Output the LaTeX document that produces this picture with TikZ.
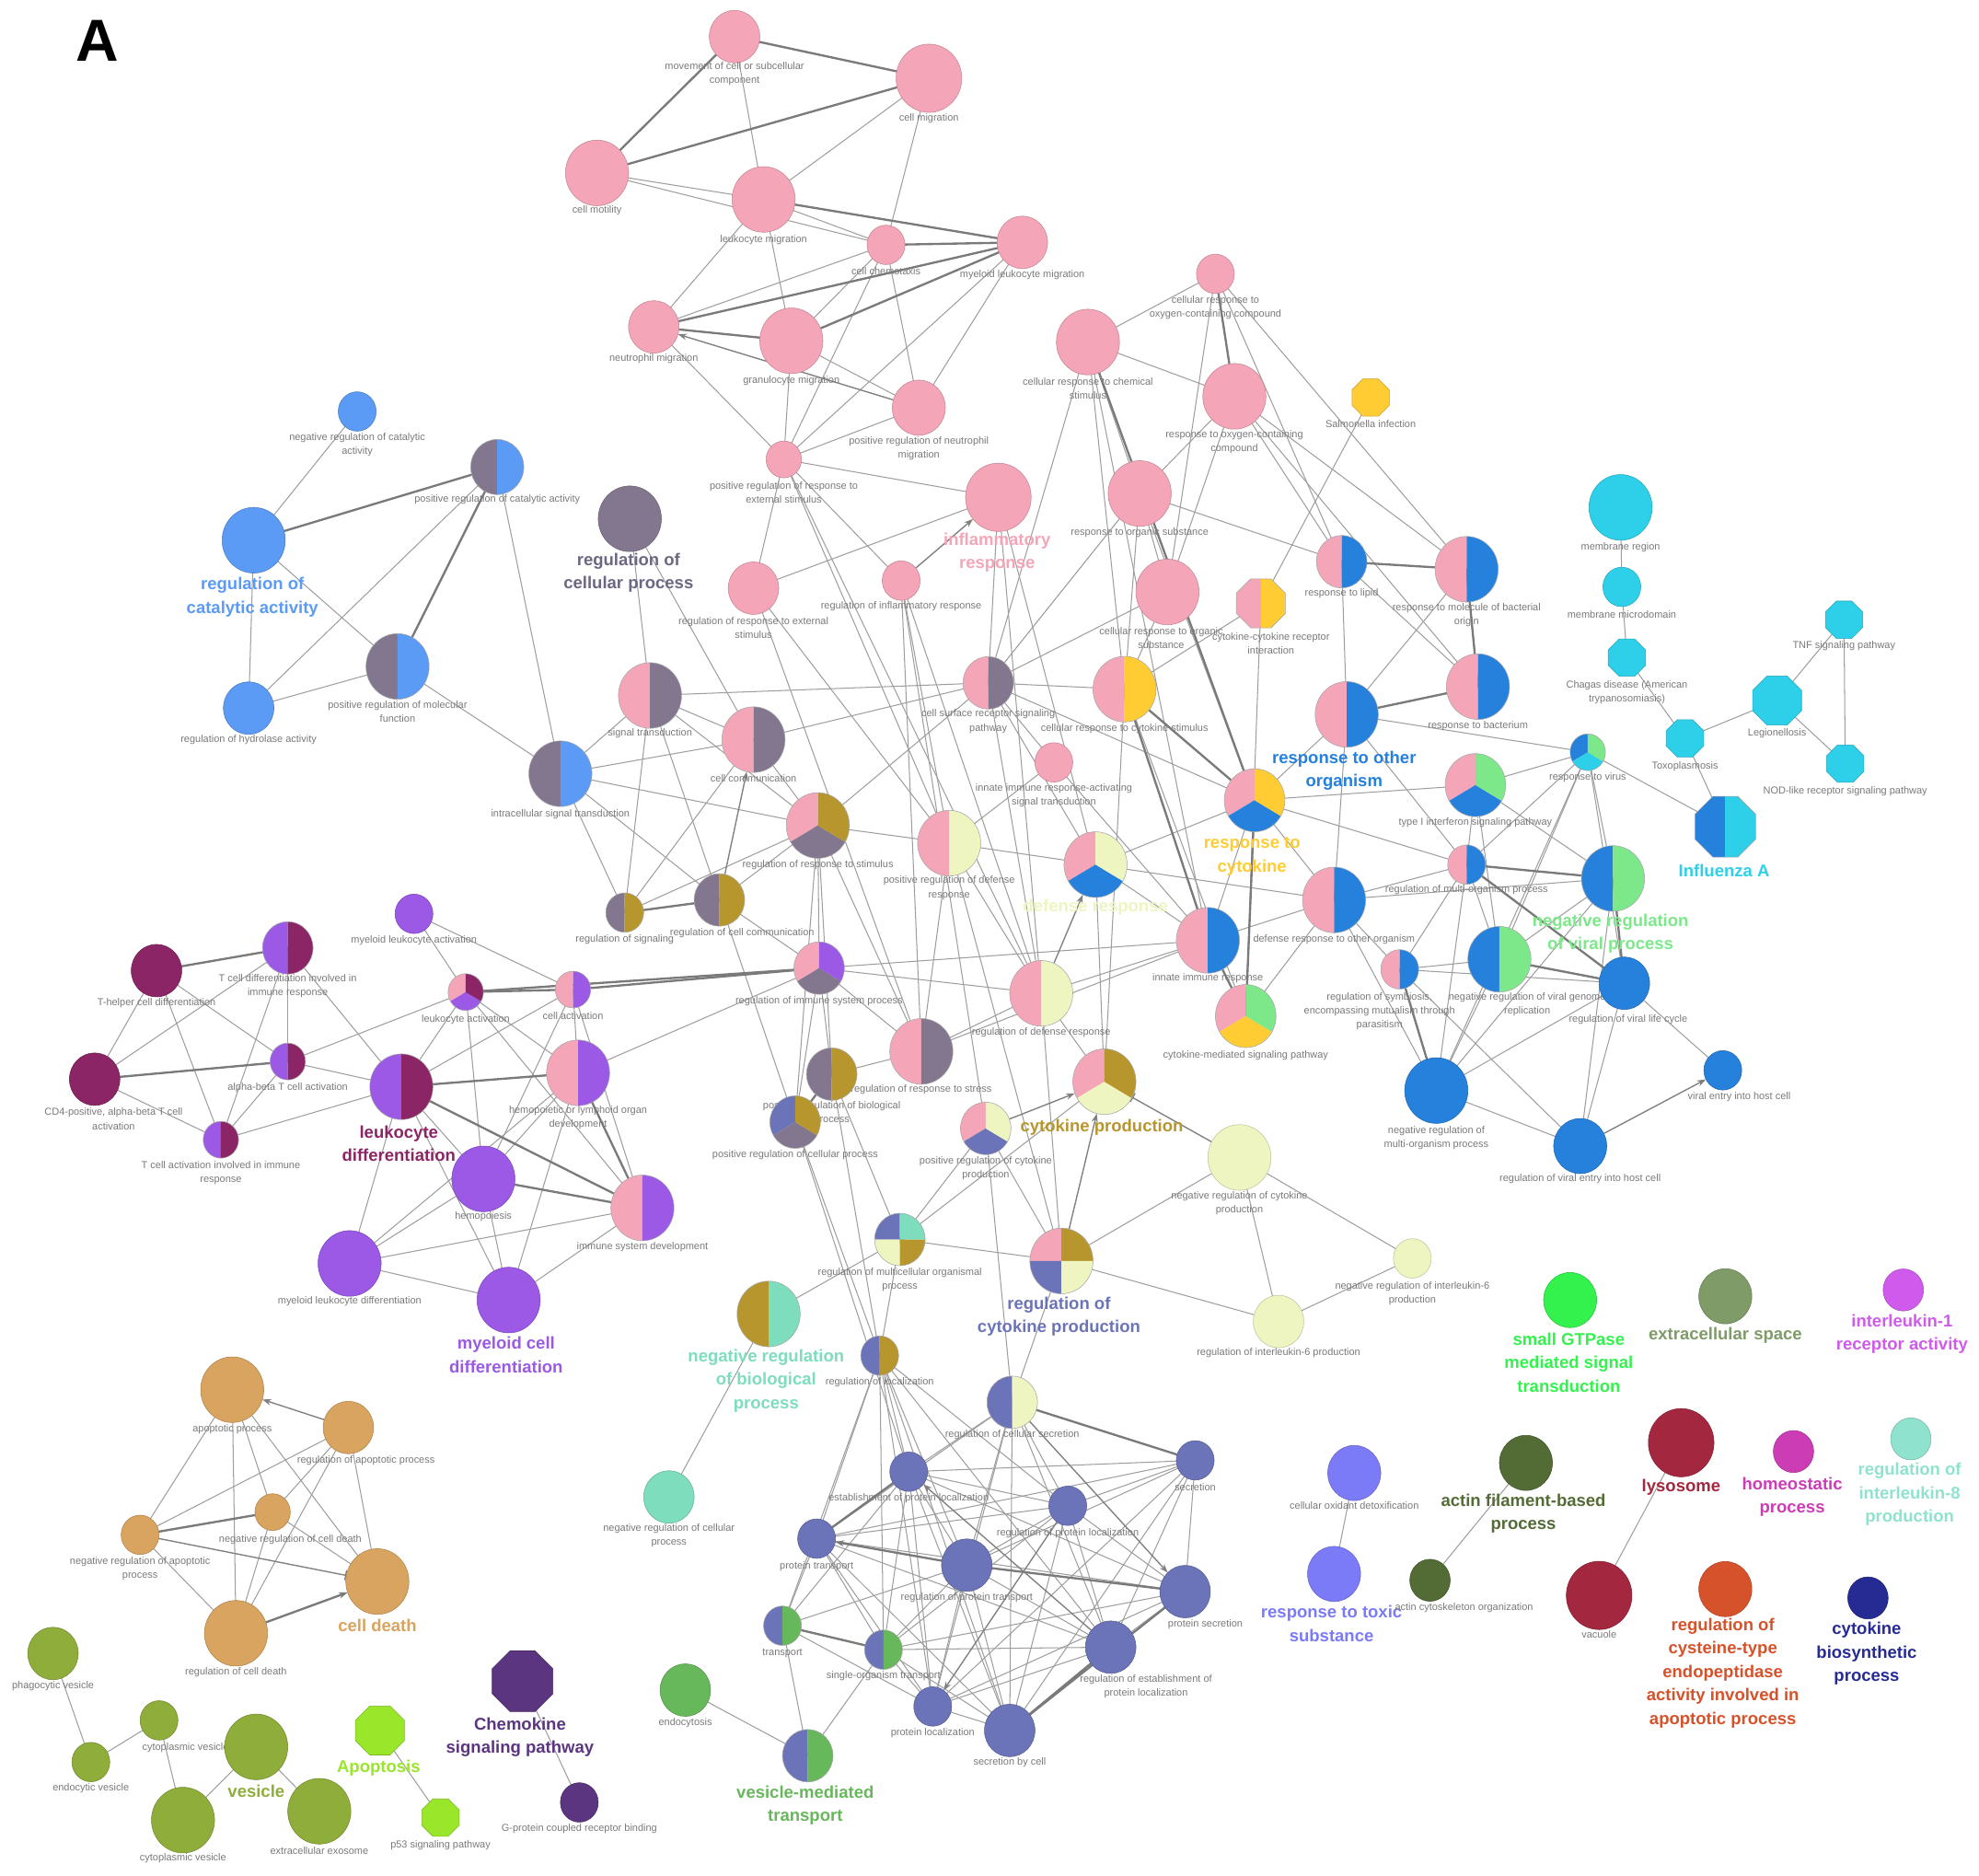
\documentclass[tikz,border=0pt]{standalone}
\usepackage{fontspec}
\setmainfont{Liberation Sans}
\usetikzlibrary{shapes.geometric,arrows.meta}
\pgfdeclarelayer{bg}
\pgfsetlayers{bg,main}
\definecolor{cP}{HTML}{F4A6B8}
\definecolor{cCB}{HTML}{5B9BF5}
\definecolor{cGP}{HTML}{837790}
\definecolor{cGPt}{HTML}{6E6783}
\definecolor{cB}{HTML}{2581DC}
\definecolor{cY}{HTML}{FFCC33}
\definecolor{cLY}{HTML}{EFF5C0}
\definecolor{cG}{HTML}{B8962E}
\definecolor{cSB}{HTML}{6B74B8}
\definecolor{cT}{HTML}{7DDDBD}
\definecolor{cLG}{HTML}{7DE88A}
\definecolor{cC}{HTML}{2ECFE8}
\definecolor{cPU}{HTML}{9B59E6}
\definecolor{cDM}{HTML}{8B2566}
\definecolor{cTN}{HTML}{D9A460}
\definecolor{cOG}{HTML}{8FAD3A}
\definecolor{cLM}{HTML}{99E62A}
\definecolor{cDP}{HTML}{5C3580}
\definecolor{cVG}{HTML}{66B85A}
\definecolor{cBG}{HTML}{33F24D}
\definecolor{cGG}{HTML}{7E9B68}
\definecolor{cMA}{HTML}{D05AEB}
\definecolor{cPW}{HTML}{7B7BF7}
\definecolor{cDO}{HTML}{536B35}
\definecolor{cCR}{HTML}{A3283F}
\definecolor{cPM}{HTML}{CC3DB5}
\definecolor{cLT}{HTML}{8FE3CE}
\definecolor{cOR}{HTML}{D6522A}
\definecolor{cNV}{HTML}{262B94}
\tikzset{
 gn/.style={ellipse, inner sep=0pt, outer sep=0pt},
 bord/.style={draw=black!35, line width=0.4pt},
 slab/.style={text=black!52, font=\fontsize{8}{11}\selectfont, align=center, inner sep=0pt},
 blab/.style={font=\bfseries\fontsize{13.5}{18.5}\selectfont, align=center, inner sep=0pt},
 ed/.style={draw=black!38, line width=0.75pt},
 edk/.style={draw=black!52, line width=1.7pt},
 arr/.style={draw=black!50, line width=1pt, -{Stealth[length=7pt,width=5pt]}},
 barr/.style={draw=black!50, line width=1pt, -{Bar[width=8pt]}},
}
% single colour circle
\newcommand\NdOne[5]{%
 \node[gn, minimum width={2*#4pt}, minimum height={2.08*#4pt}, fill=#5, draw=#5!80!black, line width=0.4pt] (#1) at (#2,#3) {};}
% two halves
\newcommand\NdTwo[6]{%
 \node[gn, minimum width={2*#4pt}, minimum height={2.08*#4pt}] (#1) at (#2,#3) {};
 \begin{scope}[shift={(#2,#3)}, yscale=1.04]
  \fill[#5] (0pt,0pt) -- (0pt,#4pt) arc[start angle=90, end angle=270, radius=#4pt] -- cycle;
  \fill[#6] (0pt,0pt) -- (0pt,-#4pt) arc[start angle=-90, end angle=90, radius=#4pt] -- cycle;
  \draw[bord] (0pt,0pt) circle[radius=#4pt];
 \end{scope}}
% three parts: left, right, bottom
\newcommand\NdThree[7]{%
 \node[gn, minimum width={2*#4pt}, minimum height={2.08*#4pt}] (#1) at (#2,#3) {};
 \begin{scope}[shift={(#2,#3)}, yscale=1.04]
  \fill[#5] (0pt,0pt) -- (90:#4pt) arc[start angle=90, end angle=210, radius=#4pt] -- cycle;
  \fill[#7] (0pt,0pt) -- (210:#4pt) arc[start angle=210, end angle=330, radius=#4pt] -- cycle;
  \fill[#6] (0pt,0pt) -- (-30:#4pt) arc[start angle=-30, end angle=90, radius=#4pt] -- cycle;
  \draw[bord] (0pt,0pt) circle[radius=#4pt];
 \end{scope}}
% four quarters: TL, TR, BL, BR
\newcommand\NdFour[8]{%
 \node[gn, minimum width={2*#4pt}, minimum height={2.08*#4pt}] (#1) at (#2,#3) {};
 \begin{scope}[shift={(#2,#3)}, yscale=1.04]
  \fill[#5] (0pt,0pt) -- (90:#4pt) arc[start angle=90, end angle=180, radius=#4pt] -- cycle;
  \fill[#6] (0pt,0pt) -- (0:#4pt) arc[start angle=0, end angle=90, radius=#4pt] -- cycle;
  \fill[#7] (0pt,0pt) -- (180:#4pt) arc[start angle=180, end angle=270, radius=#4pt] -- cycle;
  \fill[#8] (0pt,0pt) -- (270:#4pt) arc[start angle=270, end angle=360, radius=#4pt] -- cycle;
  \draw[bord] (0pt,0pt) circle[radius=#4pt];
 \end{scope}}
% octagon
\newcommand\NdOct[5]{%
 \node[gn, minimum width={2*#4pt}, minimum height={2*#4pt}] (#1) at (#2,#3) {};
 \begin{scope}[shift={(#2,#3)}]
  \filldraw[fill=#5, draw=#5!80!black, line width=0.4pt] (22.5:#4pt) -- (67.5:#4pt) -- (112.5:#4pt) -- (157.5:#4pt) -- (202.5:#4pt) -- (247.5:#4pt) -- (292.5:#4pt) -- (337.5:#4pt) -- cycle;
 \end{scope}}
\newcommand\NdOctTwo[6]{%
 \node[gn, minimum width={2*#4pt}, minimum height={2*#4pt}] (#1) at (#2,#3) {};
 \begin{scope}[shift={(#2,#3)}]
  \begin{scope}
   \clip (22.5:#4pt) -- (67.5:#4pt) -- (112.5:#4pt) -- (157.5:#4pt) -- (202.5:#4pt) -- (247.5:#4pt) -- (292.5:#4pt) -- (337.5:#4pt) -- cycle;
   \fill[#5] (-#4pt,-#4pt) rectangle (0pt,#4pt);
   \fill[#6] (0pt,-#4pt) rectangle (#4pt,#4pt);
  \end{scope}
  \draw[bord] (22.5:#4pt) -- (67.5:#4pt) -- (112.5:#4pt) -- (157.5:#4pt) -- (202.5:#4pt) -- (247.5:#4pt) -- (292.5:#4pt) -- (337.5:#4pt) -- cycle;
 \end{scope}}
\newcommand\SLab[4]{\node[slab] (#1) at (#2,#3) {#4};}
\newcommand\BLab[5]{\node[blab, text=#4] (#1) at (#2,#3) {#5};}
\begin{document}
\begin{tikzpicture}[x=1pt,y=-1pt]
\useasboundingbox (0,0) rectangle (1568,1486);
\begin{pgfonlayer}{bg}
\fill[white] (0,0) rectangle (1568,1486);
\end{pgfonlayer}
\node[font=\bfseries\fontsize{47}{47}\selectfont, inner sep=0pt] (lblA) at (77,32) {A};
% ---------------- top pink cluster
\NdOne{mov}{582}{29}{20}{cP}\SLab{t-mov}{582}{58.5}{movement of cell or subcellular\\component}
\NdOne{cmig}{736}{62}{26}{cP}\SLab{t-cmig}{736}{94}{cell migration}
\NdOne{cmot}{473}{137}{25}{cP}\SLab{t-cmot}{473}{167}{cell motility}
\NdOne{lmig}{605}{158}{25}{cP}\SLab{t-lmig}{605}{190}{leukocyte migration}
\NdOne{chem}{702}{194}{15}{cP}\SLab{t-chem}{702}{215}{cell chemotaxis}
\NdOne{mlmig}{810}{192}{20}{cP}\SLab{t-mlmig}{810}{218}{myeloid leukocyte migration}
\NdOne{nmig}{518}{259}{20}{cP}\SLab{t-nmig}{518}{284}{neutrophil migration}
\NdOne{gmig}{627}{270}{25}{cP}\SLab{t-gmig}{627}{302}{granulocyte migration}
\NdOne{pnmig}{728}{323}{21}{cP}\SLab{t-pnmig}{728}{355.5}{positive regulation of neutrophil\\migration}
\NdOne{prest}{621}{364}{14}{cP}\SLab{t-prest}{621}{390.5}{positive regulation of response to\\external stimulus}
\NdOne{ccox}{963}{217}{15}{cP}\SLab{t-ccox}{963}{243.5}{cellular response to\\oxygen-containing compound}
\NdOne{ccs}{862}{271}{25}{cP}\SLab{t-ccs}{862}{307.5}{cellular response to chemical\\stimulus}
\NdOne{roc}{978}{314}{25}{cP}\SLab{t-roc}{978}{350.5}{response to oxygen-containing\\compound}
\NdOct{sal}{1086}{315}{16}{cY}\SLab{t-sal}{1086}{336}{Salmonella infection}
\NdOne{infl}{791}{394}{26}{cP}\BLab{t-infl}{790}{437.5}{cP}{inflammatory\\response}
\NdOne{rts}{903}{391}{25}{cP}\SLab{t-rts}{903}{422}{response to organic substance}
\NdOne{rres}{597}{466}{20}{cP}\SLab{t-rres}{597}{497.5}{regulation of response to external\\stimulus}
\NdOne{rinf}{714}{460}{15}{cP}\SLab{t-rinf}{714}{480}{regulation of inflammatory response}
\NdOne{ccos}{925}{469}{25}{cP}\SLab{t-ccos}{920}{505.5}{cellular response to organic\\substance}
\NdOctTwo{ccri}{999}{478}{21}{cP}{cY}\SLab{t-ccri}{1007}{509.5}{cytokine-cytokine receptor\\interaction}
\NdTwo{rlip}{1063}{445}{20}{cP}{cB}\SLab{t-rlip}{1063}{470}{response to lipid}
\NdTwo{rmbo}{1162}{451}{25}{cP}{cB}\SLab{t-rmbo}{1162}{487.5}{response to molecule of bacterial\\origin}
\NdTwo{rbac}{1171}{544}{25}{cP}{cB}\SLab{t-rbac}{1171}{575}{response to bacterium}
\NdTwo{rto}{1067}{566}{25}{cP}{cB}\BLab{t-rto}{1065}{610.5}{cB}{response to other\\organism}
\NdTwo{ccsti}{891}{546}{25}{cP}{cY}\SLab{t-ccsti}{891}{577}{cellular response to cytokine stimulus}
\NdTwo{csrs}{783}{541}{20}{cP}{cGP}\SLab{t-csrs}{783}{571.5}{cell surface receptor signaling\\pathway}
\NdOne{iira}{835}{604}{15}{cP}\SLab{t-iira}{835}{630.5}{innate immune response-activating\\signal transduction}
\NdThree{rtc}{994}{634}{24}{cP}{cY}{cB}\BLab{t-rtc}{992}{678.5}{cY}{response to\\cytokine}
\NdTwo{prdr}{752}{668}{25}{cP}{cLY}\SLab{t-prdr}{752}{703.5}{positive regulation of defense\\response}
\NdThree{dr}{868}{685}{25}{cP}{cLY}{cB}\BLab{t-dr}{868}{719}{cLY}{defense response}
\NdTwo{iir}{957}{745}{25}{cP}{cB}\SLab{t-iir}{957}{775}{innate immune response}
\NdTwo{drto}{1057}{713}{25}{cP}{cB}\SLab{t-drto}{1057}{744}{defense response to other organism}
\NdThree{cmsp}{987}{805}{24}{cP}{cLG}{cY}\SLab{t-cmsp}{987}{836}{cytokine-mediated signaling pathway}
\NdThree{t1ifn}{1169}{622}{24}{cP}{cLG}{cB}\SLab{t-t1ifn}{1169}{652}{type I interferon signaling pathway}
\NdThree{rsv}{1258}{596}{14}{cB}{cLG}{cC}\SLab{t-rsv}{1258}{616}{response to virus}
\NdTwo{rmop}{1162}{685}{15}{cP}{cB}\SLab{t-rmop}{1162}{705}{regulation of multi-organism process}
\NdTwo{nrvp}{1278}{696}{25}{cB}{cLG}\BLab{t-nrvp}{1276}{739.5}{cLG}{negative regulation\\of viral process}
\NdTwo{rsym}{1109}{768}{15}{cP}{cB}\SLab{t-rsym}{1093}{801}{regulation of symbiosis,\\encompassing mutualism through\\parasitism}
\NdTwo{nrvg}{1188}{760}{25}{cB}{cLG}\SLab{t-nrvg}{1210}{795.5}{negative regulation of viral genome\\replication}
\NdOne{rvlc}{1287}{779}{20}{cB}\SLab{t-rvlc}{1290}{808}{regulation of viral life cycle}
\NdOne{nrmo}{1138}{864}{25}{cB}\SLab{t-nrmo}{1138}{901.5}{negative regulation of\\multi-organism process}
\NdOne{vehc}{1365}{848}{15}{cB}\SLab{t-vehc}{1378}{869}{viral entry into host cell}
\NdOne{rvehc}{1252}{908}{21}{cB}\SLab{t-rvehc}{1252}{934}{regulation of viral entry into host cell}
% ---------------- cyan cluster
\NdOne{memr}{1284}{402}{25}{cC}\SLab{t-memr}{1284}{434}{membrane region}
\NdOne{memm}{1285}{465}{15}{cC}\SLab{t-memm}{1285}{487}{membrane microdomain}
\NdOct{chag}{1289}{521}{16}{cC}\SLab{t-chag}{1289}{548.5}{Chagas disease (American\\trypanosomiasis)}
\NdOct{toxo}{1335}{585}{16}{cC}\SLab{t-toxo}{1335}{607}{Toxoplasmosis}
\NdOct{legi}{1408}{555}{21}{cC}\SLab{t-legi}{1408}{581}{Legionellosis}
\NdOct{tnf}{1461}{491}{16}{cC}\SLab{t-tnf}{1461}{512}{TNF signaling pathway}
\NdOct{nod}{1462}{605}{16}{cC}\SLab{t-nod}{1462}{627}{NOD-like receptor signaling pathway}
\NdOctTwo{flu}{1367}{655}{26}{cB}{cC}\BLab{t-flu}{1366}{690}{cC}{Influenza A}
% ---------------- catalytic / signalling
\NdOne{nrca}{283}{326}{15}{cCB}\SLab{t-nrca}{283}{352.5}{negative regulation of catalytic\\activity}
\NdTwo{prca}{394}{370}{21}{cGP}{cCB}\SLab{t-prca}{394}{396}{positive regulation of catalytic activity}
\NdOne{rcat}{201}{428}{25}{cCB}\BLab{t-rcat}{200}{473}{cCB}{regulation of\\catalytic activity}
\NdOne{rhyd}{197}{561}{20}{cCB}\SLab{t-rhyd}{197}{586}{regulation of hydrolase activity}
\NdTwo{prmf}{315}{528}{25}{cGP}{cCB}\SLab{t-prmf}{315}{563.5}{positive regulation of molecular\\function}
\NdOne{rcp}{499}{411}{25}{cGP}\BLab{t-rcp}{498}{454}{cGPt}{regulation of\\cellular process}
\NdTwo{ist}{444}{613}{25}{cGP}{cCB}\SLab{t-ist}{444}{645}{intracellular signal transduction}
\NdTwo{sigt}{515}{551}{25}{cP}{cGP}\SLab{t-sigt}{515}{581}{signal transduction}
\NdTwo{ccom}{597}{586}{25}{cP}{cGP}\SLab{t-ccom}{597}{617}{cell communication}
\NdThree{rrst}{648}{654}{25}{cP}{cG}{cGP}\SLab{t-rrst}{648}{685}{regulation of response to stimulus}
\NdTwo{rsig}{495}{723}{15}{cGP}{cG}\SLab{t-rsig}{495}{744}{regulation of signaling}
\NdTwo{rcc}{570}{713}{20}{cGP}{cG}\SLab{t-rcc}{588}{739}{regulation of cell communication}
\NdThree{risp}{649}{767}{20}{cP}{cPU}{cGP}\SLab{t-risp}{649}{793}{regulation of immune system process}
\NdTwo{rdr}{825}{787}{25}{cP}{cLY}\SLab{t-rdr}{825}{818}{regulation of defense response}
\NdTwo{rrs}{730}{833}{25}{cP}{cGP}\SLab{t-rrs}{730}{863}{regulation of response to stress}
\NdTwo{prbp}{659}{851}{20}{cGP}{cG}\SLab{t-prbp}{659}{881.5}{positive regulation of biological\\process}
\NdThree{prcp}{630}{889}{20}{cSB}{cG}{cGP}\SLab{t-prcp}{630}{915}{positive regulation of cellular process}
\NdThree{cprod}{875}{857}{25}{cP}{cG}{cLY}\BLab{t-cprod}{873}{893}{cG}{cytokine production}
\NdThree{prcyp}{781}{894}{20}{cP}{cLY}{cSB}\SLab{t-prcyp}{781}{925.5}{positive regulation of cytokine\\production}
\NdOne{nrcyp}{982}{917}{25}{cLY}\SLab{t-nrcyp}{982}{953.5}{negative regulation of cytokine\\production}
\NdFour{rmop2}{713}{982}{20}{cSB}{cT}{cLY}{cG}\SLab{t-rmop2}{713}{1013.5}{regulation of multicellular organismal\\process}
\NdFour{rcyp}{841}{999}{25}{cP}{cG}{cSB}{cLY}\BLab{t-rcyp}{839}{1043}{cSB}{regulation of\\cytokine production}
\NdOne{nril6}{1119}{997}{15}{cLY}\SLab{t-nril6}{1119}{1024.5}{negative regulation of interleukin-6\\production}
\NdOne{ril6}{1013}{1047}{20}{cLY}\SLab{t-ril6}{1013}{1072}{regulation of interleukin-6 production}
\NdTwo{nrbp}{609}{1041}{25}{cG}{cT}\BLab{t-nrbp}{607}{1094}{cT}{negative regulation\\of biological\\process}
\NdOne{nrcp}{530}{1186}{20}{cT}\SLab{t-nrcp}{530}{1216.5}{negative regulation of cellular\\process}
% ---------------- purple cluster
\NdOne{mla}{328}{724}{15}{cPU}\SLab{t-mla}{328}{745}{myeloid leukocyte activation}
\NdTwo{tcd}{228}{751}{20}{cPU}{cDM}\SLab{t-tcd}{228}{781.5}{T cell differentiation involved in\\immune response}
\NdOne{thc}{124}{769}{20}{cDM}\SLab{t-thc}{124}{795}{T-helper cell differentiation}
\NdThree{lact}{369}{786}{14}{cP}{cDM}{cPU}\SLab{t-lact}{369}{808}{leukocyte activation}
\NdTwo{cact}{454}{784}{14}{cP}{cPU}\SLab{t-cact}{454}{805}{cell activation}
\NdTwo{abt}{228}{841}{14}{cPU}{cDM}\SLab{t-abt}{228}{862}{alpha-beta T cell activation}
\NdOne{cd4}{75}{855}{20}{cDM}\SLab{t-cd4}{90}{886.5}{CD4-positive, alpha-beta T cell\\activation}
\NdTwo{ld}{318}{861}{25}{cPU}{cDM}\BLab{t-ld}{316}{906}{cDM}{leukocyte\\differentiation}
\NdTwo{hlod}{458}{850}{25}{cP}{cPU}\SLab{t-hlod}{458}{885.5}{hemopoietic or lymphoid organ\\development}
\NdTwo{tcai}{175}{903}{14}{cPU}{cDM}\SLab{t-tcai}{175}{929.5}{T cell activation involved in immune\\response}
\NdOne{hemo}{383}{934}{25}{cPU}\SLab{t-hemo}{383}{964}{hemopoiesis}
\NdTwo{isd}{509}{957}{25}{cP}{cPU}\SLab{t-isd}{509}{988}{immune system development}
\NdOne{mld}{277}{1001}{25}{cPU}\SLab{t-mld}{277}{1031}{myeloid leukocyte differentiation}
\NdOne{mcd}{403}{1030}{25}{cPU}\BLab{t-mcd}{401}{1073.5}{cPU}{myeloid cell\\differentiation}
% ---------------- cell death
\NdOne{ap}{184}{1101}{25}{cTN}\SLab{t-ap}{184}{1132}{apoptotic process}
\NdOne{rap}{276}{1131}{20}{cTN}\SLab{t-rap}{290}{1157}{regulation of apoptotic process}
\NdOne{nrcd}{216}{1198}{14}{cTN}\SLab{t-nrcd}{230}{1220}{negative regulation of cell death}
\NdOne{nrap}{111}{1216}{15}{cTN}\SLab{t-nrap}{111}{1242.5}{negative regulation of apoptotic\\process}
\NdOne{cd}{299}{1253}{25}{cTN}\BLab{t-cd}{299}{1288}{cTN}{cell death}
\NdOne{rcd}{187}{1294}{25}{cTN}\SLab{t-rcd}{187}{1325}{regulation of cell death}
% ---------------- vesicle etc.
\NdOne{phv}{42}{1310}{20}{cOG}\SLab{t-phv}{42}{1336}{phagocytic vesicle}
\NdOne{cvp}{126}{1363}{15}{cOG}\SLab{t-cvp}{155}{1385}{cytoplasmic vesicle part}
\NdOne{endv}{72}{1396}{15}{cOG}\SLab{t-endv}{72}{1417}{endocytic vesicle}
\NdOne{ves}{203}{1384}{25}{cOG}\BLab{t-ves}{203}{1419}{cOG}{vesicle}
\NdOne{cytv}{145}{1442}{25}{cOG}\SLab{t-cytv}{145}{1472}{cytoplasmic vesicle}
\NdOne{exo}{253}{1435}{25}{cOG}\SLab{t-exo}{253}{1466}{extracellular exosome}
\NdOct{apo}{301}{1371}{21}{cLM}\BLab{t-apo}{300}{1401}{cLM}{Apoptosis}
\NdOct{p53}{349}{1440}{16}{cLM}\SLab{t-p53}{349}{1462}{p53 signaling pathway}
\NdOct{chemo}{414}{1332}{26}{cDP}\BLab{t-chemo}{412}{1376.5}{cDP}{Chemokine\\signaling pathway}
\NdOne{gpcr}{459}{1428}{15}{cDP}\SLab{t-gpcr}{459}{1449}{G-protein coupled receptor binding}
% ---------------- secretion cluster
\NdTwo{rloc}{697}{1074}{15}{cSB}{cG}\SLab{t-rloc}{697}{1095}{regulation of localization}
\NdTwo{rcs}{802}{1111}{20}{cSB}{cLY}\SLab{t-rcs}{802}{1137}{regulation of cellular secretion}
\NdOne{ecl}{720}{1166}{15}{cSB}\SLab{t-ecl}{720}{1187}{establishment of protein localization}
\NdOne{secr}{947}{1157}{15}{cSB}\SLab{t-secr}{947}{1178}{secretion}
\NdOne{rpl}{846}{1193}{15}{cSB}\SLab{t-rpl}{846}{1215}{regulation of protein localization}
\NdOne{ptr}{647}{1219}{15}{cSB}\SLab{t-ptr}{647}{1241}{protein transport}
\NdOne{rpt}{766}{1240}{20}{cSB}\SLab{t-rpt}{766}{1266}{regulation of protein transport}
\NdOne{psec}{939}{1261}{20}{cSB}\SLab{t-psec}{955}{1287}{protein secretion}
\NdTwo{trans}{620}{1288}{15}{cSB}{cVG}\SLab{t-trans}{620}{1310}{transport}
\NdTwo{sot}{700}{1307}{15}{cSB}{cVG}\SLab{t-sot}{700}{1328}{single-organism transport}
\NdOne{repl}{880}{1305}{20}{cSB}\SLab{t-repl}{908}{1336.5}{regulation of establishment of\\protein localization}
\NdOne{ploc}{739}{1352}{15}{cSB}\SLab{t-ploc}{739}{1373}{protein localization}
\NdOne{sbc}{800}{1371}{20}{cSB}\SLab{t-sbc}{800}{1396}{secretion by cell}
\NdOne{endo}{543}{1339}{20}{cVG}\SLab{t-endo}{543}{1365}{endocytosis}
\NdTwo{vmt}{640}{1391}{20}{cSB}{cVG}\BLab{t-vmt}{638}{1430.5}{cVG}{vesicle-mediated\\transport}
% ---------------- singletons right
\NdOne{sgtp}{1244}{1030}{21}{cBG}\BLab{t-sgtp}{1243}{1079.5}{cBG}{small GTPase\\mediated signal\\transduction}
\NdOne{exsp}{1367}{1027}{21}{cGG}\BLab{t-exsp}{1367}{1058}{cGG}{extracellular space}
\NdOne{il1}{1508}{1022}{16}{cMA}\BLab{t-il1}{1507}{1057}{cMA}{interleukin-1\\receptor activity}
\NdOne{cod}{1073}{1167}{21}{cPW}\SLab{t-cod}{1073}{1193}{cellular oxidant detoxification}
\NdOne{rtox}{1057}{1247}{21}{cPW}\BLab{t-rtox}{1055}{1286.5}{cPW}{response to toxic\\substance}
\NdOne{afb}{1209}{1159}{21}{cDO}\BLab{t-afb}{1207}{1199}{cDO}{actin filament-based\\process}
\NdOne{acto}{1133}{1252}{16}{cDO}\SLab{t-acto}{1160}{1274}{actin cytoskeleton organization}
\NdOne{lyso}{1332}{1143}{26}{cCR}\BLab{t-lyso}{1332}{1178}{cCR}{lysosome}
\NdOne{vac}{1267}{1264}{26}{cCR}\SLab{t-vac}{1267}{1295}{vacuole}
\NdOne{homeo}{1421}{1150}{16}{cPM}\BLab{t-homeo}{1420}{1186}{cPM}{homeostatic\\process}
\NdOne{il8}{1514}{1140}{16}{cLT}\BLab{t-il8}{1513}{1184}{cLT}{regulation of\\interleukin-8\\production}
\NdOne{cyst}{1367}{1259}{21}{cOR}\BLab{t-cyst}{1365}{1325.5}{cOR}{regulation of\\cysteine-type\\endopeptidase\\activity involved in\\apoptotic process}
\NdOne{cbp}{1480}{1266}{16}{cNV}\BLab{t-cbp}{1479}{1310}{cNV}{cytokine\\biosynthetic\\process}
% ---------------- edges
\begin{pgfonlayer}{bg}
\foreach \a/\b in {mov/lmig, cmot/lmig, cmot/chem, cmig/lmig, cmig/chem, lmig/chem, lmig/nmig, lmig/gmig, chem/nmig, chem/gmig, chem/pnmig, chem/prest, mlmig/pnmig, mlmig/prest, gmig/pnmig, nmig/prest, gmig/prest, pnmig/prest, prest/infl, prest/rres, prest/rinf, prest/prdr, prest/rdr,
 ccox/ccs, ccox/rlip, ccox/rmbo, ccox/ccos, ccs/roc, ccs/rts, ccs/csrs, ccs/ccsti, ccs/iir, roc/rts, roc/rlip, roc/rmbo, roc/rbac, roc/ccos, sal/ccri, rts/ccos, rts/csrs, rts/rtc, rts/rlip, rts/ccsti,
 infl/rres, infl/csrs, infl/dr, infl/rdr, rinf/rdr, rinf/prdr, rinf/rrs, rinf/prcyp, rres/prdr, rres/rrs,
 csrs/ccsti, csrs/iira, csrs/rtc, csrs/ccos, csrs/sigt, csrs/ccom, csrs/rrst, csrs/dr, csrs/rdr,
 ccsti/ccos, ccsti/cmsp, ccsti/ccri, ccsti/cprod, ccri/cmsp,
 rlip/rto, rlip/rbac, rmbo/rto, rto/rsv, rto/drto, rto/rtc, rto/rmop,
 rtc/iir, rtc/dr, rtc/drto, rtc/t1ifn, rtc/rmop,
 t1ifn/rsv, t1ifn/rmop, t1ifn/nrvp, t1ifn/nrvg,
 rsv/flu, rsv/nrvp, rsv/nrvg, rsv/rmop, rsv/nrmo, rsv/rvlc,
 rmop/drto, rmop/nrvg, rmop/rsym, rmop/nrmo,
 nrvp/nrvg, nrvp/nrmo, nrvp/drto, nrvp/rvehc,
 drto/iir, drto/rsym, drto/nrmo, rsym/nrvg, rsym/rvlc, rsym/rvehc, nrvg/nrmo,
 rvlc/nrmo, rvlc/rvehc, rvlc/vehc, nrmo/rvehc,
 iir/dr, iir/rdr, iir/iira, dr/prdr, dr/cprod, dr/drto, prdr/rdr, prdr/iira, prdr/rcyp, rdr/rrs, rdr/cprod, rdr/rcyp, rrs/prdr, rrs/iir, cmsp/drto,
 nrca/rcat, prca/rhyd, prca/ist, rcat/prmf, rcat/rhyd, rhyd/prmf, prmf/ist, rcp/sigt, rcp/ccom,
 ist/sigt, ist/ccom, ist/rrst, ist/rsig, ist/rcc, sigt/ccom, sigt/rsig, sigt/rrst, sigt/prcp, ccom/rrst, ccom/rsig,
 rrst/rsig, rrst/rcc, rrst/risp, rrst/rrs, rrst/prdr, rrst/prbp, rrst/prcp, rcc/risp,
 risp/rdr, risp/iir, risp/rrs, risp/prcp, risp/prbp, risp/hlod, prbp/rrs, prbp/rmop2, prbp/rloc, prcp/ecl,
 rcyp/prcyp, rcyp/nrcyp, rcyp/ril6, rcyp/rmop2, nrcyp/nril6, nrcyp/ril6, ril6/nril6,
 rmop2/nrbp, rmop2/prcyp, rmop2/cprod, rloc/rmop2, rloc/prcp, prcyp/rcs, rcyp/rcs, nrbp/nrcp,
 thc/cd4, thc/abt, thc/tcai, tcd/cd4, tcd/abt, tcd/tcai, tcd/ld, cd4/tcai, abt/tcai, abt/ld, abt/lact, tcai/ld, mla/lact, mla/cact, lact/ld, lact/hemo, lact/hlod, lact/isd, cact/ld, cact/hlod, cact/hemo, cact/isd, ld/hemo, ld/mld, ld/mcd, hlod/hemo, hlod/mld, hlod/mcd, hemo/mld, hemo/mcd, isd/mld, isd/mcd, mld/mcd,
 ap/nrap, ap/nrcd, ap/rcd, ap/cd, rap/nrap, rap/nrcd, rap/rcd, rap/cd, nrcd/rcd, nrcd/cd, nrap/rcd,
 phv/endv, endv/cvp, cvp/cytv, ves/cytv, ves/exo, apo/p53, chemo/gpcr, endo/vmt, trans/vmt, sot/vmt, cod/rtox, afb/acto, lyso/vac, memr/memm, memm/chag, chag/toxo, toxo/legi, toxo/flu, legi/tnf, legi/nod, tnf/nod,
 rloc/ecl, rloc/ptr, rloc/rpt, rloc/sot, rloc/ploc, rloc/sbc, rloc/repl, rloc/trans, rloc/rpl,
 rcs/ecl, rcs/rpl, rcs/rpt, rcs/repl, rcs/sbc, rcs/ploc, rcs/ptr,
 ecl/secr, ecl/rpl, ecl/rpt, ecl/psec, ecl/sot, ecl/ploc, ecl/sbc, ecl/trans,
 secr/rpl, secr/ptr, secr/rpt, secr/psec, secr/repl, secr/sbc, secr/ploc,
 rpl/ptr, rpl/rpt, rpl/psec, rpl/repl, rpl/sot, rpl/sbc,
 ptr/psec, ptr/trans, ptr/sot, ptr/ploc, ptr/sbc, ptr/repl,
 rpt/repl, rpt/sot, rpt/ploc, rpt/sbc, rpt/trans,
 psec/repl, psec/ploc, psec/sot, trans/ploc, sot/ploc, sot/sbc, sot/repl, repl/ploc, ploc/sbc}
 \draw[ed] (\a.center) -- (\b.center);
\foreach \a/\b in {mov/cmig, cmot/cmig, cmot/mov, lmig/mlmig, chem/mlmig, mlmig/nmig, mlmig/gmig, nmig/gmig,
 rlip/rmbo, rbac/rto, rmbo/rbac, ccs/rtc, ccox/roc, ccsti/rtc, ccsti/iir, rtc/cmsp, iir/cmsp, rmop/nrvp, rsym/nrmo, nrvg/rvlc, nrvp/rvlc, rmop/rvlc,
 prca/rcat, prca/prmf, rsig/rcc, cact/risp, lact/risp, lact/cact, prbp/prcp,
 thc/tcd, cd4/abt, ld/hlod, ld/isd, hemo/isd, hlod/isd, nrcd/nrap,
 ecl/ptr, rcs/secr, rpt/psec, psec/sbc, repl/sbc, trans/sot}
 \draw[edk] (\a.center) -- (\b.center);
\foreach \a/\b in {pnmig/nmig, rinf/infl, rcc/ccom, rdr/dr, prcyp/cprod, rcyp/cprod, rvehc/vehc, rap/ap, repl/ecl, rpl/ploc, rcs/psec}
 \draw[arr] (\a) -- (\b);
\draw[arr, line width=1.7pt, draw=black!52] (rcd) -- (cd);
\draw[arr, line width=1.7pt, draw=black!52] (rpt) -- (ptr);
\draw[barr] (nrcyp) -- (cprod);
\draw[barr] (nrap) -- (cd);
\end{pgfonlayer}
\end{tikzpicture}
\end{document}
